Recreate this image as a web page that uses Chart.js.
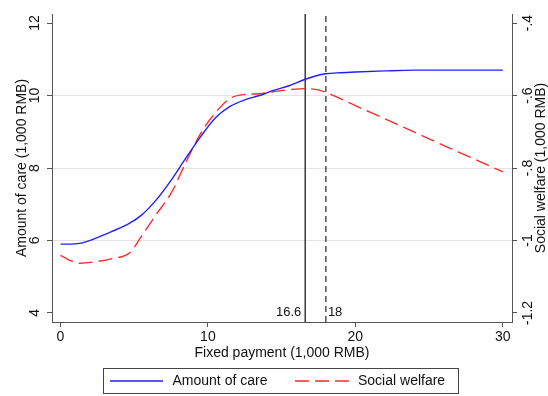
<!DOCTYPE html>
<html>
<head>
<meta charset="utf-8">
<title>Amount of care and social welfare by fixed payment</title>
<script src="https://cdn.jsdelivr.net/npm/chart.js@4/dist/chart.umd.min.js"></script>
<style>
  html, body { margin: 0; padding: 0; background: #ffffff; }
  #wrap { width: 548px; height: 396px; }
</style>
</head>
<body>
<div id="wrap"><canvas id="chart" width="548" height="396"></canvas></div>
<script>
// Fixed payment levels (1,000 RMB)
const FIXED_PAYMENT = [0, 0.5, 1.3, 2.5, 3.5, 4.7, 5.5, 6.5, 7.5, 8.5, 9.5, 10.5, 11.5, 12.5, 13.5, 14.5, 15.5, 16.6, 17.3, 18, 19, 20, 22, 24, 26, 28, 30];
// Amount of care (1,000 RMB), left axis
const AMOUNT_OF_CARE = [5.90, 5.90, 5.92, 6.08, 6.25, 6.48, 6.70, 7.12, 7.66, 8.27, 8.86, 9.38, 9.70, 9.88, 10.00, 10.15, 10.27, 10.45, 10.54, 10.60, 10.63, 10.65, 10.68, 10.70, 10.70, 10.70, 10.70];
// Social welfare (1,000 RMB), right axis
const SOCIAL_WELFARE = [-1.041, -1.052, -1.063, -1.058, -1.050, -1.034, -0.988, -0.928, -0.870, -0.785, -0.705, -0.648, -0.608, -0.597, -0.595, -0.589, -0.584, -0.581, -0.583, -0.591, -0.609, -0.628, -0.664, -0.701, -0.738, -0.774, -0.811];

// Reference payments marked by vertical lines
const REFERENCE_PAYMENTS = [16.6, 18];
const REFERENCE_LABELS = ['16.6', '18'];

// Axis ticks
const X_TICKS = [0, 10, 20, 30];
const LEFT_TICKS = [4, 6, 8, 10, 12];
const LEFT_TICK_LABELS = ['4', '6', '8', '10', '12'];
const RIGHT_TICKS = [-1.2, -1, -0.8, -0.6, -0.4];
const RIGHT_TICK_LABELS = ['-1.2', '-1', '-.8', '-.6', '-.4'];
const GRID_VALUES = [6, 8, 10];

const SERIES_NAMES = ['Amount of care', 'Social welfare'];

// Axis ranges
const X_MIN = -0.57, X_MAX = 30.62;
const LEFT_MIN = 3.75, LEFT_MAX = 12.25;
const RIGHT_MIN = -1.225, RIGHT_MAX = -0.375;

const FONT = '"Liberation Sans", Arial, Helvetica, sans-serif';
const AXIS_GREY = '#555555';
const BLUE = '#2020ff';
const RED = '#ff2a2a';
const RED_DASH = [14, 6];

function points(xs, ys) {
  return xs.map((x, i) => ({ x: x, y: ys[i] }));
}

const datasets = [
  {
    label: SERIES_NAMES[0],
    data: points(FIXED_PAYMENT, AMOUNT_OF_CARE),
    yAxisID: 'y',
    borderColor: BLUE,
    borderWidth: 1.4,
    pointRadius: 0,
    cubicInterpolationMode: 'monotone',
    fill: false
  },
  {
    label: SERIES_NAMES[1],
    data: points(FIXED_PAYMENT, SOCIAL_WELFARE),
    yAxisID: 'y2',
    borderColor: RED,
    borderWidth: 1.4,
    borderDash: RED_DASH,
    pointRadius: 0,
    cubicInterpolationMode: 'monotone',
    fill: false
  }
];

// Vertical reference lines spanning the full left-axis range
REFERENCE_PAYMENTS.forEach((p, i) => {
  datasets.push({
    label: REFERENCE_LABELS[i],
    data: [{ x: p, y: LEFT_MIN }, { x: p, y: LEFT_MAX }],
    yAxisID: 'y',
    borderColor: '#3a3a3a',
    borderWidth: i === 0 ? 1.5 : 1.3,
    borderDash: i === 0 ? [] : [6, 4],
    pointRadius: 0,
    fill: false,
    isReference: true
  });
});

// Rotated y tick labels, axis titles, reference labels and a boxed legend
const decorations = {
  id: 'decorations',
  afterDraw(chart) {
    const ctx = chart.ctx;
    const area = chart.chartArea;
    const yL = chart.scales.y, yR = chart.scales.y2, x = chart.scales.x;
    const midY = (area.top + area.bottom) / 2;

    ctx.save();
    ctx.fillStyle = '#111111';
    ctx.font = '14px ' + FONT;
    ctx.textAlign = 'center';
    ctx.textBaseline = 'middle';

    const rotatedText = (txt, cx, cy) => {
      ctx.save();
      ctx.translate(cx, cy);
      ctx.rotate(-Math.PI / 2);
      ctx.fillText(txt, 0, 0);
      ctx.restore();
    };

    LEFT_TICKS.forEach((v, i) => rotatedText(LEFT_TICK_LABELS[i], area.left - 16.5, yL.getPixelForValue(v)));
    RIGHT_TICKS.forEach((v, i) => rotatedText(RIGHT_TICK_LABELS[i], area.right + 16.5, yR.getPixelForValue(v)));

    rotatedText('Amount of care (1,000 RMB)', 22.5, midY);
    rotatedText('Social welfare (1,000 RMB)', 541.5, midY);

    // reference line labels
    ctx.font = '13px ' + FONT;
    const ly = area.bottom - 10;
    ctx.textAlign = 'right';
    ctx.fillText(REFERENCE_LABELS[0], x.getPixelForValue(REFERENCE_PAYMENTS[0]) - 4, ly);
    ctx.textAlign = 'left';
    ctx.fillText(REFERENCE_LABELS[1], x.getPixelForValue(REFERENCE_PAYMENTS[1]) + 2, ly);

    // legend
    const box = { left: 103.5, top: 368.5, width: 355, height: 25 };
    ctx.strokeStyle = '#444444';
    ctx.lineWidth = 1;
    ctx.setLineDash([]);
    ctx.strokeRect(box.left, box.top, box.width, box.height);
    const cy = box.top + box.height / 2;
    const items = [
      { ds: chart.data.datasets[0], x0: 110, x1: 163, tx: 172.5 },
      { ds: chart.data.datasets[1], x0: 295, x1: 350, tx: 358 }
    ];
    ctx.font = '14px ' + FONT;
    ctx.textAlign = 'left';
    items.forEach(it => {
      ctx.save();
      ctx.strokeStyle = it.ds.borderColor;
      ctx.lineWidth = it.ds.borderWidth;
      ctx.setLineDash(it.ds.borderDash || []);
      ctx.beginPath();
      ctx.moveTo(it.x0, cy);
      ctx.lineTo(it.x1, cy);
      ctx.stroke();
      ctx.restore();
      ctx.fillText(it.ds.label, it.tx, cy + 0.5);
    });
    ctx.restore();
  }
};

new Chart(document.getElementById('chart'), {
  type: 'line',
  data: { datasets: datasets },
  plugins: [decorations],
  options: {
    responsive: false,
    animation: false,
    devicePixelRatio: 1,
    layout: { padding: { top: 14, bottom: 30, left: 0, right: 0 } },
    plugins: {
      legend: { display: false },
      tooltip: { enabled: false }
    },
    scales: {
      x: {
        type: 'linear',
        min: X_MIN,
        max: X_MAX,
        afterBuildTicks: s => { s.ticks = X_TICKS.map(v => ({ value: v })); },
        afterFit: s => { s.height = 44; },
        grid: { drawOnChartArea: false, drawTicks: true, tickLength: 5, tickColor: AXIS_GREY },
        border: { display: true, color: AXIS_GREY, width: 1 },
        ticks: { padding: 2, color: '#111111', font: { family: FONT, size: 14 } },
        title: {
          display: true,
          text: 'Fixed payment (1,000 RMB)',
          color: '#111111',
          font: { family: FONT, size: 14 },
          padding: { top: 0, bottom: 4 }
        }
      },
      y: {
        type: 'linear',
        position: 'left',
        min: LEFT_MIN,
        max: LEFT_MAX,
        afterBuildTicks: s => { s.ticks = LEFT_TICKS.map(v => ({ value: v })); },
        afterFit: s => { s.width = 52; },
        ticks: { display: false },
        grid: {
          drawTicks: true,
          tickLength: 5,
          tickColor: AXIS_GREY,
          color: c => (c.tick && GRID_VALUES.includes(c.tick.value)) ? '#e4e4e4' : 'rgba(0,0,0,0)'
        },
        border: { display: true, color: AXIS_GREY, width: 1 }
      },
      y2: {
        type: 'linear',
        position: 'right',
        min: RIGHT_MIN,
        max: RIGHT_MAX,
        afterBuildTicks: s => { s.ticks = RIGHT_TICKS.map(v => ({ value: v })); },
        afterFit: s => { s.width = 36; },
        ticks: { display: false },
        grid: { drawOnChartArea: false, drawTicks: true, tickLength: 5, tickColor: AXIS_GREY },
        border: { display: true, color: AXIS_GREY, width: 1 }
      }
    }
  }
});
</script>
</body>
</html>
